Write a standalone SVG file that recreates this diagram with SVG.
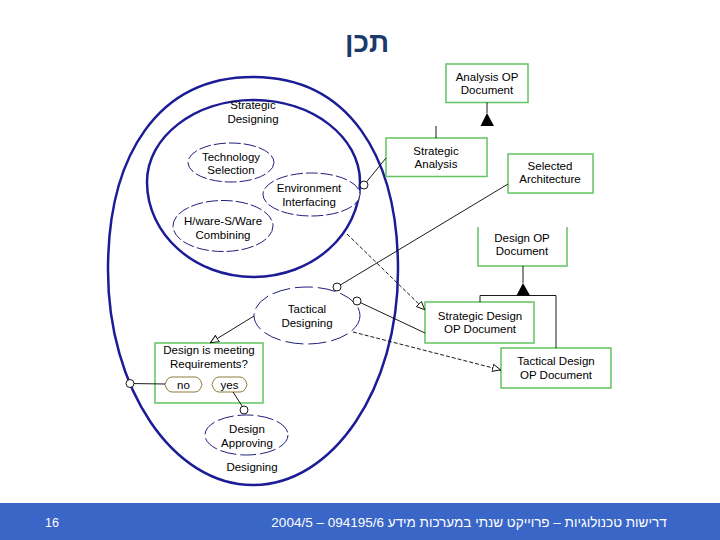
<svg xmlns="http://www.w3.org/2000/svg" width="720" height="540" viewBox="0 0 720 540">
<style>
text{font-family:"Liberation Sans",Arial,sans-serif;font-size:11.5px;fill:#000;text-anchor:middle}
.big{fill:none;stroke:#1c1c96;stroke-width:2.5}
.proc{fill:#fff;stroke:#20207a;stroke-width:1;stroke-dasharray:12,3}
.obj{fill:#fff;stroke:#62c462;stroke-width:1.5}
.st{fill:#fff;stroke:#8a7a3a;stroke-width:1}
.ln{fill:none;stroke:#000;stroke-width:0.9}
.dl{fill:none;stroke:#000;stroke-width:0.9;stroke-dasharray:4,2}
.dot{fill:#fff;stroke:#000;stroke-width:0.9}
</style>
<defs>
<marker id="open" viewBox="0 0 10 10" refX="10" refY="5" markerWidth="9" markerHeight="9" markerUnits="userSpaceOnUse" orient="auto">
<path d="M0.5,1 L9.5,5 L0.5,9 z" fill="#fff" stroke="#000" stroke-width="1"/>
</marker>
</defs>
<rect width="720" height="540" fill="#fff"/>
<text x="367" y="52" style="font-size:28px;font-weight:bold;fill:#1b3a6b">תכן</text>

<g id="designing">
<path class="big" d="M253,77 C348,77 398,155 398,270 C398,388.7 333,485 253,485 C173,485 108,388.7 108,270 C108,155 158,77 253,77 z"/>
<text x="252" y="471">Designing</text>
</g>
<g id="strategic-designing">
<path class="big" d="M253.5,100 C312.3,100 360,137 360,182 C360,234.4 312.3,277 253.5,277 C194.7,277 147,234.4 147,182 C147,137 194.7,100 253.5,100 z"/>
<text x="253" y="109">Strategic</text>
<text x="253" y="123">Designing</text>
</g>
<g id="technology-selection">
<ellipse class="proc" cx="231" cy="162.5" rx="43" ry="19.5"/>
<text x="231" y="160.5">Technology</text>
<text x="231" y="173.5">Selection</text>
</g>
<g id="environment-interfacing">
<ellipse class="proc" cx="311.5" cy="194.5" rx="48.5" ry="21.5"/>
<text x="309" y="192">Environment</text>
<text x="309" y="206">Interfacing</text>
</g>
<g id="hware-sware-combining">
<ellipse class="proc" cx="223" cy="226" rx="50" ry="25.5"/>
<text x="223" y="225">H/ware-S/Ware</text>
<text x="223" y="238.5">Combining</text>
</g>
<g id="tactical-designing">
<ellipse class="proc" cx="307" cy="315.5" rx="53" ry="28.5" style="stroke-dasharray:18,5"/>
<text x="307" y="313">Tactical</text>
<text x="307" y="327">Designing</text>
</g>
<g id="design-approving">
<ellipse class="proc" cx="246.5" cy="435" rx="41.5" ry="20" style="stroke-dasharray:16,4"/>
<text x="247" y="433">Design</text>
<text x="247" y="447">Approving</text>
</g>

<g id="analysis-op-document">
<rect class="obj" x="446" y="64" width="82" height="38.5"/>
<text x="487" y="81">Analysis OP</text>
<text x="487" y="94">Document</text>
</g>
<g id="strategic-analysis">
<rect class="obj" x="386" y="138" width="101" height="38.5"/>
<text x="436" y="155">Strategic</text>
<text x="436" y="168">Analysis</text>
</g>
<g id="selected-architecture">
<rect class="obj" x="508" y="154" width="85" height="39"/>
<text x="550" y="170">Selected</text>
<text x="550" y="183">Architecture</text>
</g>
<g id="design-op-document">
<path class="obj" d="M478,227 V266 H567 V227" style="fill:none"/>
<text x="522" y="242">Design OP</text>
<text x="522" y="255">Document</text>
</g>
<g id="strategic-design-op-document">
<rect class="obj" x="425" y="302" width="109" height="41"/>
<text x="480" y="320">Strategic Design</text>
<text x="480" y="333">OP Document</text>
</g>
<g id="tactical-design-op-document">
<rect class="obj" x="501" y="348" width="110" height="40"/>
<text x="556" y="365">Tactical Design</text>
<text x="556" y="379">OP Document</text>
</g>
<g id="design-meeting-requirements">
<rect class="obj" x="155" y="343" width="108" height="60"/>
<text x="209" y="354">Design is meeting</text>
<text x="209" y="367.5">Requirements?</text>
<g id="state-no">
<path class="st" d="M165,384.5 Q167,377 172,377 H195 Q200,377 202,384.5 Q200,392 195,392 H172 Q167,392 165,384.5 z"/>
<text x="183.5" y="388.5">no</text>
</g>
<g id="state-yes">
<path class="st" d="M212,384.5 Q214,377 219,377 H240 Q245,377 247,384.5 Q245,392 240,392 H219 Q214,392 212,384.5 z"/>
<text x="229.5" y="388.5">yes</text>
</g>
</g>

<g id="connectors">
<line class="ln" x1="487" y1="102.5" x2="487" y2="113"/>
<polygon points="487,113 480.5,126 494,126" fill="#000"/>
<line class="ln" x1="436" y1="126" x2="436" y2="138"/>
<line class="ln" x1="523" y1="266" x2="523" y2="283"/>
<polygon points="523,283 516.5,295.5 530,295.5" fill="#000"/>
<path class="ln" d="M480,302 V295.5 H556 V348"/>
<line class="ln" x1="386" y1="158" x2="364" y2="185"/>
<circle class="dot" cx="364" cy="185" r="4"/>
<line class="ln" x1="508" y1="184" x2="337" y2="287"/>
<circle class="dot" cx="337" cy="287" r="4"/>
<line class="dl" x1="347" y1="234" x2="425" y2="310" marker-end="url(#open)"/>
<line class="ln" x1="357" y1="301" x2="425" y2="333"/>
<circle class="dot" cx="357" cy="301" r="4"/>
<line class="dl" x1="353" y1="332" x2="501" y2="370" marker-end="url(#open)"/>
<line class="ln" x1="254" y1="316" x2="210" y2="343" marker-end="url(#open)"/>
<line class="ln" x1="130" y1="383.5" x2="165" y2="384"/>
<circle class="dot" cx="130" cy="383.5" r="4"/>
<line class="ln" x1="233" y1="392" x2="244" y2="409"/>
<circle class="dot" cx="244" cy="410" r="4"/>
</g>

<g id="footer">
<rect x="0" y="503" width="720" height="37" fill="#3a66c8"/>
<text x="52" y="527" style="fill:#fff;font-size:12.5px">16</text>
<text x="469" y="527" direction="rtl" style="fill:#fff;font-size:13.5px">דרישות טכנולוגיות – פרוייקט שנתי במערכות מידע 094195/6 – 2004/5</text>
</g>
</svg>
